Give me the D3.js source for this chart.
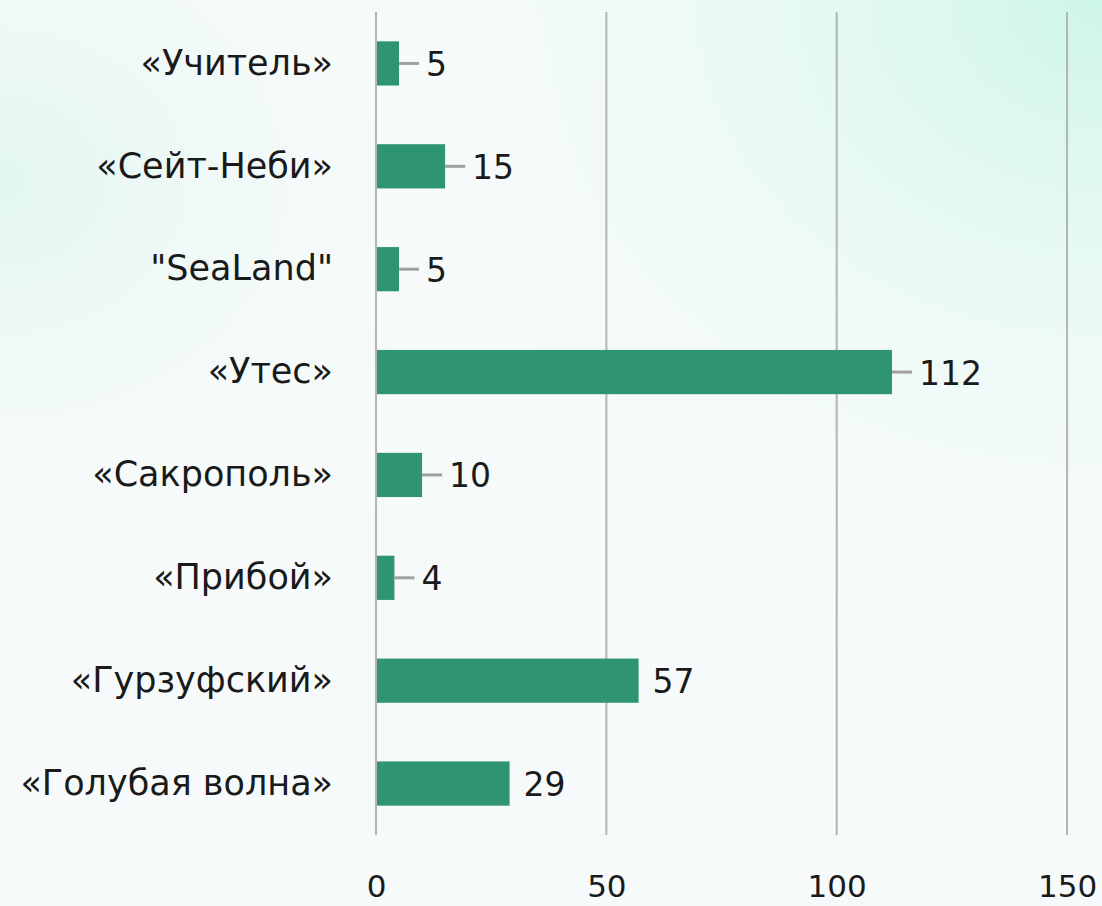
<!DOCTYPE html>
<html>
<head>
<meta charset="utf-8">
<script src="https://cdn.jsdelivr.net/npm/d3@7"></script>
<style>
  html, body { margin: 0; padding: 0; }
  body { width: 1102px; height: 906px; overflow: hidden; }
</style>
</head>
<body>
<div id="chart"></div>
<script>
// Data
const categories = ['«Учитель»', '«Сейт-Неби»', '"SeaLand"', '«Утес»', '«Сакрополь»', '«Прибой»', '«Гурзуфский»', '«Голубая волна»']
const values = [5, 15, 5, 112, 10, 4, 57, 29]
const hasLeader = [true, true, true, true, true, true, false, false]
const xTicks = [0, 50, 100, 150]

const width = 1102
const height = 906
const margin = { top: 12, right: 35, bottom: 71, left: 376 }
const FONT = '"DejaVu Sans", sans-serif'

const svg = d3.select('#chart').append('svg')
  .attr('width', width).attr('height', height)

// Background gradient
const defs = svg.append('defs')
const g1 = defs.append('radialGradient').attr('id', 'bgTR')
  .attr('cx', '100%').attr('cy', '0%').attr('r', '80%')
g1.append('stop').attr('offset', '0%').attr('stop-color', '#cdf5ea')
g1.append('stop').attr('offset', '100%').attr('stop-color', '#ffffff').attr('stop-opacity', 0)
const g2 = defs.append('radialGradient').attr('id', 'bgL')
  .attr('cx', '0%').attr('cy', '20%').attr('r', '55%')
g2.append('stop').attr('offset', '0%').attr('stop-color', '#e2f6f1')
g2.append('stop').attr('offset', '100%').attr('stop-color', '#ffffff').attr('stop-opacity', 0)

svg.append('rect').attr('width', width).attr('height', height).attr('fill', '#f6fafa')
svg.append('rect').attr('width', width).attr('height', height).attr('fill', 'url(#bgL)')
svg.append('rect').attr('width', width).attr('height', height).attr('fill', 'url(#bgTR)')

const x = d3.scaleLinear()
  .domain([0, 150])
  .range([margin.left, margin.left + 4.607 * 150])

const y = d3.scaleBand()
  .domain(categories)
  .range([margin.top, height - margin.bottom])
  .paddingInner(0.57)
  .paddingOuter(0.285)

// Gridlines
svg.append('g')
  .selectAll('line')
  .data(xTicks)
  .join('line')
  .attr('x1', d => x(d)).attr('x2', d => x(d))
  .attr('y1', margin.top).attr('y2', height - margin.bottom)
  .attr('stroke', '#b4b4b4').attr('stroke-width', 2)

// X axis labels
svg.append('g')
  .attr('transform', `translate(0,${height - margin.bottom})`)
  .call(d3.axisBottom(x).tickValues(xTicks).tickSize(0).tickPadding(40))
  .call(g => {
    g.select('.domain').remove()
    g.selectAll('.tick text')
      .attr('fill', '#1a1a1a').attr('font-size', '31px')
      .attr('font-family', FONT)
  })

// Y axis labels
svg.append('g')
  .attr('transform', `translate(${margin.left},0)`)
  .call(d3.axisLeft(y).tickSize(0).tickPadding(43))
  .call(g => {
    g.select('.domain').remove()
    g.selectAll('.tick text')
      .attr('fill', '#1a1a1a').attr('font-size', '35px')
      .attr('font-family', FONT)
  })

const rows = categories.map((c, i) => ({ c, v: values[i], leader: hasLeader[i] }))

// Bars
svg.append('g')
  .selectAll('rect')
  .data(rows)
  .join('rect')
  .attr('x', x(0) + 1)
  .attr('y', d => y(d.c))
  .attr('width', d => x(d.v) - x(0) - 1)
  .attr('height', y.bandwidth())
  .attr('fill', '#2f9570')

// Leader lines
svg.append('g')
  .selectAll('line')
  .data(rows.filter(d => d.leader))
  .join('line')
  .attr('x1', d => x(d.v)).attr('x2', d => x(d.v) + 20)
  .attr('y1', d => y(d.c) + y.bandwidth() / 2)
  .attr('y2', d => y(d.c) + y.bandwidth() / 2)
  .attr('stroke', '#a0a0a0').attr('stroke-width', 3)

// Value labels
svg.append('g')
  .selectAll('text')
  .data(rows)
  .join('text')
  .attr('x', d => x(d.v) + (d.leader ? 27 : 14))
  .attr('y', d => y(d.c) + y.bandwidth() / 2)
  .attr('dy', '0.38em')
  .attr('fill', '#1a1a1a').attr('font-size', '33px')
  .attr('font-family', FONT)
  .text(d => d.v)
</script>
</body>
</html>
